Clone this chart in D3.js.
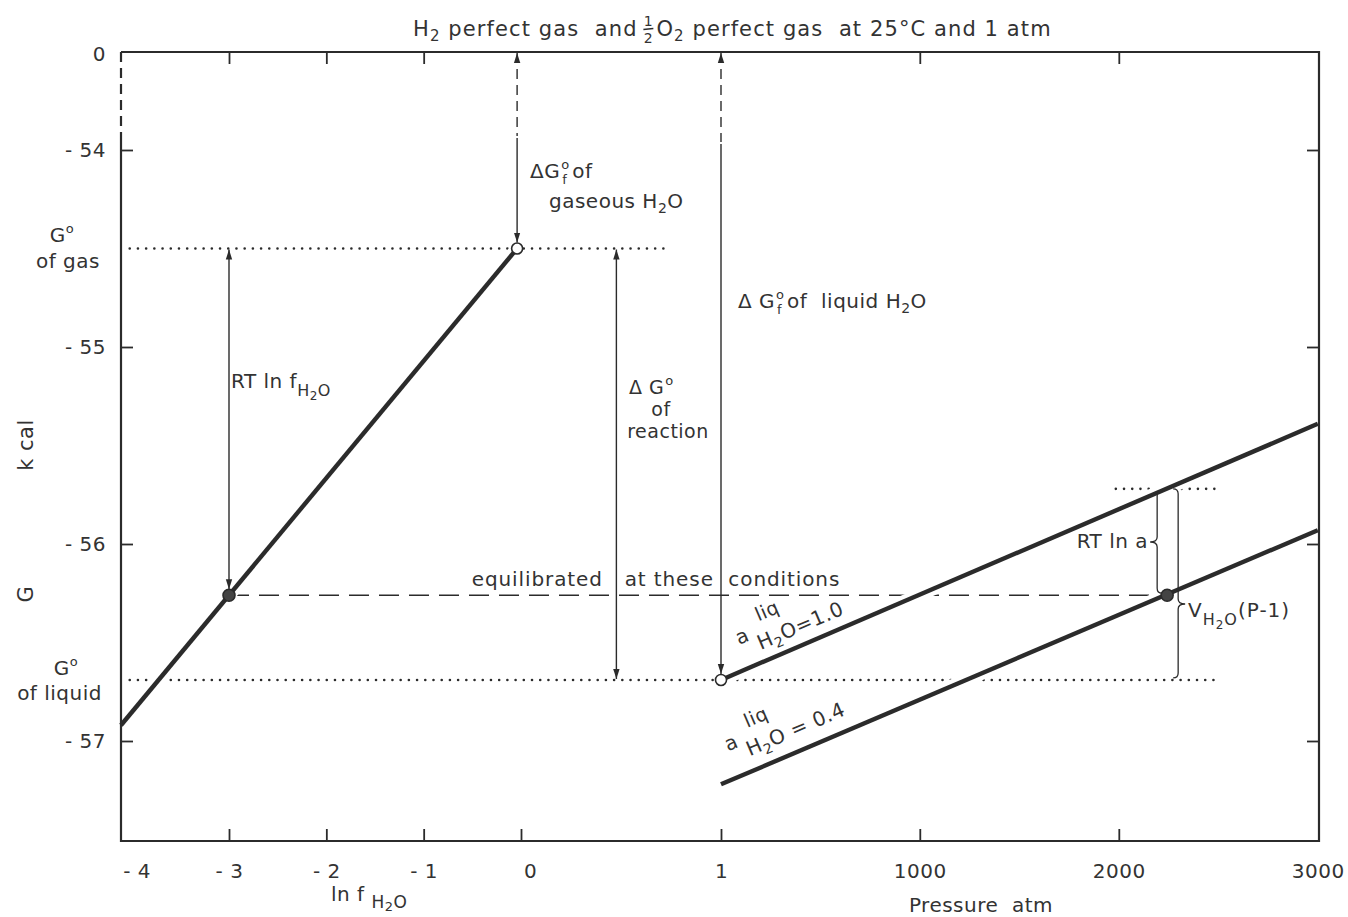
<!DOCTYPE html>
<html lang="en">
	<head>
		<meta charset="utf-8">
		<title>G of water, gas and liquid</title>
		<script src="https://d3js.org/d3.v7.min.js"></script>
		<style>
			body { margin: 0; background: #fff; }
			svg text { font-family: "DejaVu Sans", sans-serif; fill: #333; white-space: pre; letter-spacing: 0.5px; }
		</style>
	</head>
	<body>
		<script type="text/javascript">

			// tick values and labels
			var gTicks = [-54, -55, -56, -57];
			var gTickLabels = ["- 54", "- 55", "- 56", "- 57"];
			var lnfTicks = [-4, -3, -2, -1, 0];
			var lnfTickLabels = ["- 4", "- 3", "- 2", "- 1", "0"];
			var pTicks = [1, 1000, 2000, 3000];
			var pTickLabels = ["1", "1000", "2000", "3000"];

			// G (kcal) of gaseous H2O against ln f
			var gasLine = [{lnf: -4.11, g: -56.92}, {lnf: -0.04, g: -54.50}];
			// G (kcal) of liquid H2O against pressure, a = 1.0 and a = 0.4
			var liqLine10 = [{p: 1, g: -56.69}, {p: 3000, g: -55.39}];
			var liqLine04 = [{p: 1, g: -57.22}, {p: 3000, g: -55.93}];

			// reference levels and equilibrium points
			var gStdGas = -54.50;
			var gStdLiq = -56.69;
			var gEquil = -56.26;
			var gLiqAtEquilP = -55.72;
			var lnfEquil = -3;
			var lnfStd = -0.04;
			var pEquil = 2243;

			//    Size of svg and frame
			var w = 1348;
			var h = 917;
			var frameL = 121, frameR = 1319, frameT = 52, frameB = 841;
			var ink = "#2b2b2b";

			//    Scales (y axis is broken between 0 and -54)
			var y = d3.scaleLinear().domain([-57.5, -53.5]).range([839.5, 51.5]);
			var xL = d3.scaleLinear().domain([-3, 0]).range([229, 521]);
			var xP = d3.scaleLinear().domain([0, 3000]).range([720.8, 1317.8]);

			var svg = d3.select("body").append("svg").attr("width", w).attr("height", h);

			//    Arrow head
			svg.append("defs").append("marker")
				.attr("id", "arr").attr("viewBox", "0 -4 10 8")
				.attr("refX", 10).attr("refY", 0)
				.attr("markerWidth", 10).attr("markerHeight", 8)
				.attr("markerUnits", "userSpaceOnUse")
				.attr("orient", "auto-start-reverse")
				.append("path").attr("d", "M0,-3.2L10,0L0,3.2Z").attr("fill", ink);

			function hline(g, x1, x2, yy) {
				return g.append("line").attr("x1", x1).attr("x2", x2).attr("y1", yy).attr("y2", yy);
			}
			function vline(g, xx, y1, y2) {
				return g.append("line").attr("x1", xx).attr("x2", xx).attr("y1", y1).attr("y2", y2);
			}

			//    Dotted and dashed guides
			var guides = svg.append("g").attr("stroke", ink).attr("fill", "none");
			function dotted(sel) {
				sel.attr("stroke-width", 2.6).attr("stroke-linecap", "round").attr("stroke-dasharray", "0.01 8.2");
			}
			dotted(hline(guides, xL(-4.02), xL(1.48), y(gStdGas)));
			dotted(hline(guides, xL(-4.02), xP(2500), y(gStdLiq)));
			dotted(hline(guides, xP(1985), xP(2490), y(gLiqAtEquilP)));
			hline(guides, xL(lnfEquil), xP(pEquil), y(gEquil))
				.attr("stroke-width", 1.6).attr("stroke-dasharray", "20 10");

			//    Thick lines with a white halo to break the guides
			var lineL = d3.line().x(function(d) { return xL(d.lnf); }).y(function(d) { return y(d.g); });
			var lineP = d3.line().x(function(d) { return xP(d.p); }).y(function(d) { return y(d.g); });
			var thick = svg.append("g").attr("fill", "none");
			[lineL(gasLine), lineP(liqLine10), lineP(liqLine04)].forEach(function(d) {
				thick.append("path").attr("d", d).attr("stroke", "#fff").attr("stroke-width", 13);
			});
			[lineL(gasLine), lineP(liqLine10), lineP(liqLine04)].forEach(function(d) {
				thick.append("path").attr("d", d).attr("stroke", ink).attr("stroke-width", 4.4);
			});

			//    Arrows
			var arrows = svg.append("g").attr("stroke", ink).attr("stroke-width", 1.4).attr("fill", "none");
			// RT ln f
			vline(arrows, xL(lnfEquil), y(gStdGas) + 1, y(gEquil) - 6)
				.attr("marker-start", "url(#arr)").attr("marker-end", "url(#arr)");
			// dG f of gaseous H2O
			vline(arrows, xL(lnfStd), frameT + 1, 136)
				.attr("stroke-dasharray", "10 6").attr("marker-start", "url(#arr)");
			vline(arrows, xL(lnfStd), 138, y(gStdGas) - 6).attr("marker-end", "url(#arr)");
			// dG of reaction
			vline(arrows, xL(0.98), y(gStdGas) + 1, y(gStdLiq) - 1)
				.attr("marker-start", "url(#arr)").attr("marker-end", "url(#arr)");
			// dG f of liquid H2O
			vline(arrows, xP(1), frameT + 1, 142)
				.attr("stroke-dasharray", "10 6").attr("marker-start", "url(#arr)");
			vline(arrows, xP(1), 144, y(gStdLiq) - 6).attr("marker-end", "url(#arr)");

			//    Braces
			function brace(x, y1, y2, tipY, dir) {
				var q = 5, t = 7;
				return "M" + (x - dir * q) + "," + y1 +
					"Q" + x + "," + y1 + " " + x + "," + (y1 + q) +
					"L" + x + "," + (tipY - q) +
					"Q" + x + "," + tipY + " " + (x + dir * t) + "," + tipY +
					"Q" + x + "," + tipY + " " + x + "," + (tipY + q) +
					"L" + x + "," + (y2 - q) +
					"Q" + x + "," + y2 + " " + (x - dir * q) + "," + y2;
			}
			arrows.append("path").attr("stroke-width", 1.3)
				.attr("d", brace(xP(pEquil) - 10, y(gLiqAtEquilP) + 2, y(gEquil) - 2, 542, -1));
			arrows.append("path").attr("stroke-width", 1.3)
				.attr("d", brace(xP(pEquil) + 11, y(gLiqAtEquilP), y(gStdLiq) - 2, 604, 1));

			//    Points
			var pts = svg.append("g").attr("stroke", ink).attr("stroke-width", 1.6);
			pts.append("circle").attr("cx", xL(lnfStd)).attr("cy", y(gStdGas)).attr("r", 5.5).attr("fill", "#fff");
			pts.append("circle").attr("cx", xP(1)).attr("cy", y(gStdLiq)).attr("r", 5.5).attr("fill", "#fff");
			pts.append("circle").attr("cx", xL(lnfEquil)).attr("cy", y(gEquil)).attr("r", 6).attr("fill", "#444");
			pts.append("circle").attr("cx", xP(pEquil)).attr("cy", y(gEquil)).attr("r", 6).attr("fill", "#444");

			//    Frame
			var frame = svg.append("g").attr("stroke", ink).attr("stroke-width", 2.2).attr("fill", "none");
			frame.append("path").attr("d", "M" + frameL + "," + frameT + "H" + frameR + "V" + frameB + "H" + frameL + "V140");
			vline(frame, frameL, frameT, 140).attr("stroke-dasharray", "10 6");

			//    Axes
			function styleAxis(g) {
				g.select(".domain").remove();
				g.selectAll(".tick line").attr("stroke", ink).attr("stroke-width", 1.8);
				g.selectAll(".tick text").attr("font-size", 20);
			}
			var axB1 = svg.append("g").attr("transform", "translate(0," + frameB + ")")
				.call(d3.axisBottom(xL).tickValues(lnfTicks).tickSize(-12).tickPadding(23)
					.tickFormat(function(d, i) { return lnfTickLabels[i]; }));
			styleAxis(axB1);
			axB1.selectAll(".tick").filter(function(d) { return d === -4; }).select("line").remove();
			axB1.selectAll(".tick").filter(function(d) { return d === -4; }).select("text").attr("dx", 5);
			axB1.selectAll(".tick").filter(function(d) { return d === 0; }).select("text").attr("dx", 9);

			var axB2 = svg.append("g").attr("transform", "translate(0," + frameB + ")")
				.call(d3.axisBottom(xP).tickValues(pTicks).tickSize(-12).tickPadding(23)
					.tickFormat(function(d, i) { return pTickLabels[i]; }));
			styleAxis(axB2);
			axB2.selectAll(".tick").filter(function(d) { return d === 3000; }).select("line").remove();

			var axT1 = svg.append("g").attr("transform", "translate(0," + frameT + ")")
				.call(d3.axisTop(xL).tickValues([-3, -2, -1]).tickSize(-12).tickFormat(""));
			styleAxis(axT1);
			var axT2 = svg.append("g").attr("transform", "translate(0," + frameT + ")")
				.call(d3.axisTop(xP).tickValues([1000, 2000]).tickSize(-12).tickFormat(""));
			styleAxis(axT2);

			var axL = svg.append("g").attr("transform", "translate(" + frameL + ",0)")
				.call(d3.axisLeft(y).tickValues(gTicks).tickSize(-12).tickPadding(15)
					.tickFormat(function(d, i) { return gTickLabels[i]; }));
			styleAxis(axL);
			var axR = svg.append("g").attr("transform", "translate(" + frameR + ",0)")
				.call(d3.axisRight(y).tickValues(gTicks).tickSize(-12).tickFormat(""));
			styleAxis(axR);

			//    Text helpers
			var txt = svg.append("g");
			function rich(parent, x, yy, parts, size, anchor) {
				var t = parent.append("text").attr("x", x).attr("y", yy)
					.attr("font-size", size).attr("text-anchor", anchor || "start");
				var cur = 0;
				parts.forEach(function(p) {
					var off = p.dy || 0;
					t.append("tspan").attr("dy", off - cur).attr("font-size", p.size || size).text(p.t);
					cur = off;
				});
				return t;
			}
			function plain(parent, x, yy, s, size, anchor) {
				return parent.append("text").attr("x", x).attr("y", yy)
					.attr("font-size", size).attr("text-anchor", anchor || "start").text(s);
			}
			// "dG" with a stacked degree sign and optional f subscript; returns x after it
			function deltaG(parent, x, yy, pre, withF, size) {
				size = size || 20;
				var t = plain(parent, x, yy, pre, size);
				var wd = t.node().getComputedTextLength();
				plain(parent, x + wd + 1, yy - 9, "o", 13);
				if (withF) plain(parent, x + wd + 2, yy + 6, "f", 13);
				return x + wd + 12;
			}

			//    Title
			var t1 = rich(txt, 413, 36, [{t: "H"}, {t: "2", dy: 5, size: 15}, {t: " perfect gas  and ", dy: 0}], 21)
				.style("letter-spacing", "1.1px");
			var fx = 413 + t1.node().getComputedTextLength() + 3;
			plain(txt, fx, 26, "1", 14, "middle");
			txt.append("line").attr("x1", fx - 5).attr("x2", fx + 5).attr("y1", 29.5).attr("y2", 28.5)
				.attr("stroke", ink).attr("stroke-width", 1.3);
			plain(txt, fx, 43, "2", 14, "middle");
			rich(txt, fx + 8, 36, [{t: "O"}, {t: "2", dy: 5, size: 15}, {t: " perfect gas  at 25°C and 1 atm", dy: 0}], 21)
				.style("letter-spacing", "1.1px");

			//    Axis labels
			plain(txt, 106, 61, "0", 20, "end");
			plain(txt, 0, 0, "k cal", 21, "middle").attr("transform", "translate(33,445) rotate(-90)");
			plain(txt, 0, 0, "G", 21, "middle").attr("transform", "translate(33,594) rotate(-90)");
			rich(txt, 331, 901, [{t: "ln f "}, {t: "H", dy: 7, size: 17}, {t: "2", dy: 10, size: 13}, {t: "O", dy: 7, size: 17}], 20);
			plain(txt, 981, 912, "Pressure  atm", 20, "middle");

			//    Level labels
			rich(txt, 62, 242, [{t: "G"}, {t: "o", dy: -9, size: 13}], 20, "middle");
			plain(txt, 100, 268, "of gas", 20, "end");
			rich(txt, 66, 675, [{t: "G"}, {t: "o", dy: -9, size: 13}], 20, "middle");
			plain(txt, 102, 700, "of liquid", 20, "end");

			//    Annotations
			rich(txt, 231, 388, [{t: "RT ln f"}, {t: "H", dy: 8, size: 16}, {t: "2", dy: 12, size: 12}, {t: "O", dy: 8, size: 16}], 20);
			var gx = deltaG(txt, 530, 178, "\u0394G", true);
			plain(txt, gx, 178, "of", 20);
			rich(txt, 549, 208, [{t: "gaseous H"}, {t: "2", dy: 5, size: 14}, {t: "O", dy: 0}], 20);
			var lx = deltaG(txt, 738, 308, "\u0394 G", true);
			rich(txt, lx, 308, [{t: "of  liquid H"}, {t: "2", dy: 5, size: 14}, {t: "O", dy: 0}], 20);
			deltaG(txt, 629, 394, "\u0394 G", false, 19);
			plain(txt, 661, 416, "of", 19, "middle");
			plain(txt, 668, 438, "reaction", 19, "middle");
			plain(txt, 656, 586, "equilibrated   at these  conditions", 20, "middle").style("letter-spacing", "0.9px");
			plain(txt, 1148, 548, "RT ln a", 20, "end");
			rich(txt, 1188, 617, [{t: "V"}, {t: "H", dy: 8, size: 16}, {t: "2", dy: 12, size: 12}, {t: "O", dy: 8, size: 16}, {t: "(P-1)", dy: 0}], 20)
				.style("letter-spacing", "1px");

			//    Line labels, rotated along the liquid lines
			var ang = Math.atan2(y(liqLine10[1].g) - y(liqLine10[0].g), xP(liqLine10[1].p) - xP(liqLine10[0].p)) * 180 / Math.PI;
			function lineLabel(px, yy, val) {
				var g = txt.append("g").attr("transform", "translate(" + px + "," + yy + ") rotate(" + ang + ")");
				plain(g, 0, 0, "a", 20);
				plain(g, 27, -14, "liq", 19);
				rich(g, 18, 13, [{t: "H"}, {t: "2", dy: 5, size: 14}, {t: "O" + val, dy: 0}], 20);
			}
			lineLabel(xP(92), y(-56.65) - 27, "=1.0");
			lineLabel(xP(36), y(-57.20) - 29, " = 0.4");

		</script>
	</body>
</html>
